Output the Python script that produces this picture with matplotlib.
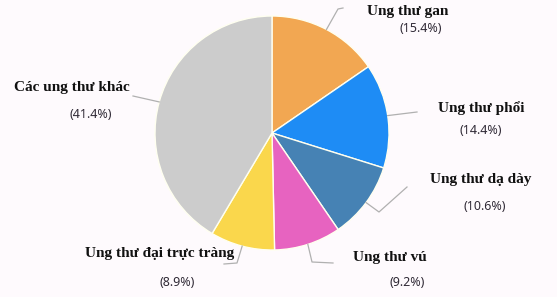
import numpy as np
import matplotlib
matplotlib.use('Agg')
import matplotlib.pyplot as plt

labels = ['Ung thư gan', 'Ung thư phổi', 'Ung thư dạ dày', 'Ung thư vú',
          'Ung thư đại trực tràng', 'Các ung thư khác']
shares = [15.4, 14.4, 10.6, 9.2, 8.9, 41.4]
colors = ['#F2A752', '#1E8CF5', '#4682B4', '#E763C0', '#FAD74C', '#CCCCCC']

W, H = 557, 297
cx, cy, r = 272, 133, 117

# label text positions (pixel coords, top-left origin): name, percent
name_pos = [(367, 12, 'left'), (438, 108, 'left'), (430, 180, 'left'),
            (353, 257, 'left'), (234, 253, 'right'), (130, 87, 'right')]
pct_pos = [(399, 29), (460, 130), (463, 207), (389, 283), (160, 282), (70, 115)]
# leader lines: elbow points and ends (pixel coords)
leader = [[(338, 9), (343, 8)], [(417, 112)], [(379, 212), (407, 187)],
          [(312, 262), (333, 263)], [(237, 263), (224, 264)], [(133, 96)]]


def Y(y):
    return H - y


fig = plt.figure(figsize=(W / 100, H / 100), dpi=100)
fig.patch.set_facecolor('#FEFAFD')
ax = fig.add_axes([0, 0, 1, 1])
ax.set_facecolor('#FEFAFD')

ax.pie(shares, colors=colors, center=(cx, Y(cy)), radius=r, startangle=90,
       counterclock=False, wedgeprops=dict(edgecolor='#FFFFF0', linewidth=1.0))

ax.set_xlim(0, W)
ax.set_ylim(0, H)
ax.set_aspect('equal')
ax.axis('off')

total = sum(shares)
cum = 0
for i, (lab, v) in enumerate(zip(labels, shares)):
    mid = (cum + v / 2) / total * 360
    cum += v
    sx = cx + r * np.sin(np.radians(mid))
    sy = cy - r * np.cos(np.radians(mid))
    pts = [(sx, sy)] + leader[i]
    ax.plot([p[0] for p in pts], [Y(p[1]) for p in pts], color='#B0B0B0',
            lw=0.9, solid_joinstyle='round')
    nx, ny, ha = name_pos[i]
    ax.text(nx, Y(ny), lab, ha=ha, va='center', fontsize=11, fontweight='bold',
            family='Liberation Serif', color='#111111')
    px, py = pct_pos[i]
    ax.text(px, Y(py), '(%.1f%%)' % v, ha='left', va='center', fontsize=9,
            family='Noto Sans', color='#302A36')

fig.savefig('out.png', dpi=100, facecolor=fig.get_facecolor())
